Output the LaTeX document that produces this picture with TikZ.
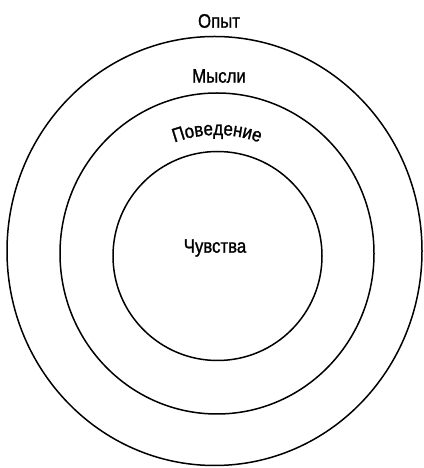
\documentclass[tikz,border=0pt]{standalone}
\usepackage{fontspec}
\setmainfont{Liberation Sans}[FakeStretch=0.86,FakeBold=1.2]
\usetikzlibrary{decorations.text}
\begin{document}
\begin{tikzpicture}[x=1pt,y=1pt,
  ring/.style={draw=black,line width=1.5pt},
  lbl/.style={font=\fontsize{19.5}{22}\selectfont,inner sep=0pt}]
\useasboundingbox (0,0) rectangle (423,468);
\draw[ring] (214.5,217) ellipse [x radius=207.5, y radius=214.5];
\draw[ring] (217,214.5) ellipse [x radius=157, y radius=160.5];
\draw[ring] (217.5,212) circle [radius=104.5];
\node[lbl] (opyt) at (219,447) {Опыт};
\node[lbl] (mysli) at (219,392) {Мысли};
\node[lbl] (chuv) at (215,220) {Чувства};
\coordinate (arcc) at (217,210);
\path[decorate,decoration={text along path,text align=center,
  text={|\fontsize{19.5}{22}\selectfont|Поведение}}]
  (arcc) ++(140:123) arc[start angle=140,end angle=40,radius=123];
\end{tikzpicture}
\end{document}
